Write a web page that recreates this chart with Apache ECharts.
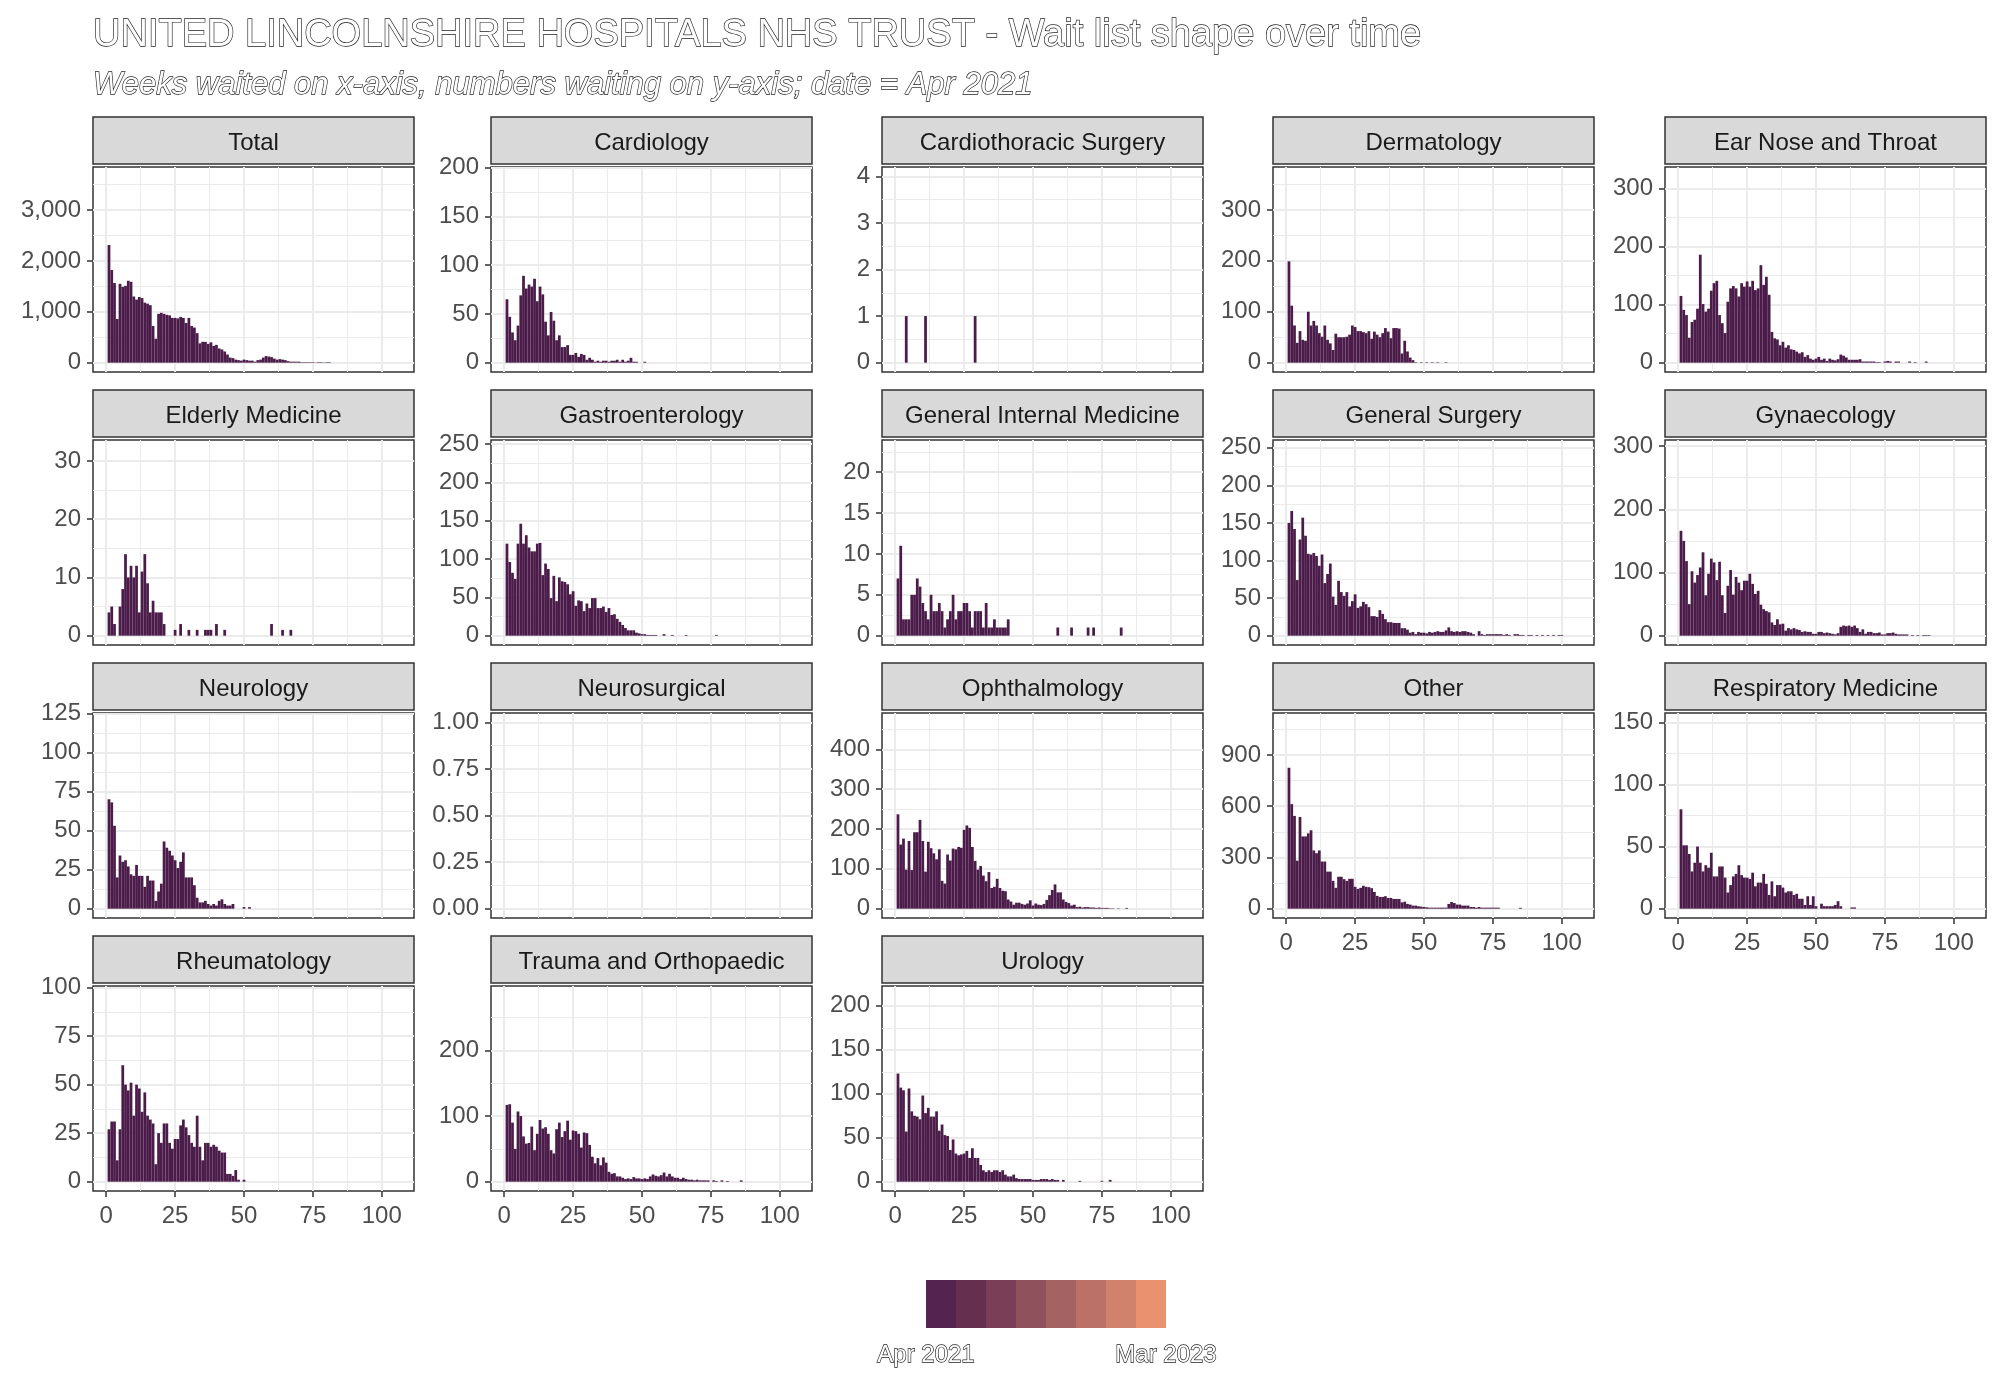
<!DOCTYPE html>
<html lang="en">
<head>
    <meta charset="UTF-8">
    <title>Wait list shape over time</title>
    <script src="https://cdn.jsdelivr.net/npm/echarts@6/dist/echarts.min.js"></script>
    <style>
        html, body { margin: 0; padding: 0; background: #fff; }
        #chart { width: 2000px; height: 1400px; }
    </style>
</head>
<body>
    <div id="chart"></div>
<script>
    // facet names, in the order they are laid out (row by row)
    var specialties = ['Total', 'Cardiology', 'Cardiothoracic Surgery', 'Dermatology', 'Ear Nose and Throat',
        'Elderly Medicine', 'Gastroenterology', 'General Internal Medicine', 'General Surgery', 'Gynaecology',
        'Neurology', 'Neurosurgical', 'Ophthalmology', 'Other', 'Respiratory Medicine',
        'Rheumatology', 'Trauma and Orthopaedic', 'Urology'];

    // numbers waiting, one value per week waited, starting at week 1 (Apr 2021)
    var total = [2312,1820,1565,858,1550,1490,1510,1610,1590,1300,1240,1290,1270,1180,1160,1130,720,470,960,980,
        960,940,930,880,880,870,900,880,780,880,720,690,580,380,410,410,370,400,330,350,280,260,220,160,100,90,60,50,
        40,60,50,40,40,20,50,60,100,130,120,110,80,60,70,60,50,30,20,20,20,20,10,10,10,10,10,5,10,10,5,10,10];
    var cardiology = [65,47,31,23,38,69,89,76,80,78,86,63,78,70,42,28,52,43,23,28,16,16,18,8,8,10,6,9,8,3,5,3,1,2,1,
        2,2,1,2,2,3,1,3,1,2,5,1,1,0,0,1];
    var cardiothoracic = [0,0,0,1,0,0,0,0,0,0,1,0,0,0,0,0,0,0,0,0,0,0,0,0,0,0,0,0,1];
    var dermatology = [199,112,73,39,62,45,43,100,73,82,73,58,51,73,45,38,25,57,50,50,50,51,55,73,70,62,62,60,58,62,
        47,61,55,50,58,68,61,48,68,68,67,18,43,22,10,5,1,0,1,0,1,0,1,0,1,0,0,1];
    var ent = [115,91,82,43,70,74,93,186,101,88,93,124,137,141,82,68,51,105,128,132,128,114,137,131,140,131,141,125,
        128,168,134,148,117,53,42,40,30,36,26,30,23,22,19,16,18,10,13,7,5,7,10,5,7,3,7,5,4,6,14,12,9,5,5,5,5,6,2,2,2,2,
        2,1,1,0,2,3,2,0,2,2,0,0,0,2,0,1,0,0,0,2];
    var elderly = [4,5,2,0,5,8,14,10,12,10,12,4,11,14,9,4,6,4,4,4,2,0,0,0,1,0,2,0,0,1,0,0,1,0,0,1,1,1,0,2,0,0,1,
        0,0,0,0,0,0,0,0,0,0,0,0,0,0,0,0,2,0,0,0,1,0,0,1];
    var gastro = [120,96,82,74,120,146,120,131,115,110,110,120,121,79,94,87,49,78,45,76,71,70,67,54,58,39,46,45,32,42,
        36,49,49,36,36,38,31,36,27,28,22,18,14,10,7,7,7,4,3,2,2,1,1,1,1,0,0,2,0,0,1,0,0,0,0,1,0,0,0,0,0,0,0,0,0,0,1];
    var generalMedicine = [7,11,2,2,2,5,5,7,6,4,3,2,5,3,3,4,3,1,2,3,5,2,3,3,4,4,3,1,3,3,3,1,4,1,1,2,1,1,1,1,2,
        0,0,0,0,0,0,0,0,0,0,0,0,0,0,0,0,0,1,0,0,0,0,1,0,0,0,0,0,1,0,1,0,0,0,0,0,0,0,0,0,1];
    var generalSurgery = [150,166,142,74,128,157,133,109,108,110,106,93,108,70,82,96,52,41,73,58,53,58,39,46,55,37,39,
        45,42,38,26,26,25,34,29,22,18,18,17,17,17,10,10,8,4,5,2,5,4,4,3,5,4,5,6,5,5,7,11,6,5,6,5,6,6,5,4,2,0,6,2,1,2,2,
        2,2,2,2,1,2,1,0,2,2,1,1,0,1,1,0,1,0,1,0,1,0,1,0,1,1];
    var gynaecology = [166,150,118,50,102,84,96,108,132,64,98,122,116,88,117,64,36,79,104,65,93,84,72,87,87,98,82,66,
        71,49,42,39,37,21,17,26,18,19,8,12,10,12,10,9,6,7,6,6,3,3,6,6,4,5,4,3,2,4,14,16,15,16,14,16,12,6,10,3,6,6,4,4,5,
        2,2,4,4,5,3,2,2,2,2,0,1,0,1,0,1,1,1];
    var neurology = [70,68,53,20,34,30,31,27,22,21,28,21,21,14,21,18,18,5,11,16,43,39,37,34,31,26,30,36,20,20,20,15,7,
        4,4,5,3,2,3,2,5,6,3,2,2,3,0,0,0,1,0,1];
    var neurosurgical = [];
    var ophthalmology = [237,161,176,98,170,97,192,192,223,170,93,168,152,139,124,149,70,63,136,121,151,149,155,153,
        198,209,203,155,120,98,107,83,69,92,52,55,75,52,45,44,23,18,10,15,15,12,10,13,21,8,13,10,9,12,22,34,47,61,41,41,
        23,17,14,8,10,4,5,3,4,4,3,3,2,3,2,2,2,1,1,0,1,0,0,2];
    var other = [825,612,543,281,537,423,423,441,459,341,325,341,276,276,217,217,163,122,187,187,173,163,175,175,128,
        116,122,134,128,126,120,98,75,69,69,73,63,63,57,57,57,37,41,28,24,18,18,14,12,10,8,6,6,6,6,6,6,6,28,39,33,24,24,
        18,18,18,10,10,6,10,6,6,6,6,6,6,6,0,0,0,0,0,0,0,5];
    var respiratory = [80,51,51,44,30,37,50,37,30,35,33,45,26,26,34,34,25,13,19,26,28,35,27,25,25,24,29,18,21,21,28,
        20,11,22,10,19,19,17,13,14,14,11,12,8,8,3,10,3,10,2,0,4,2,2,2,2,3,6,2,0,0,0,1,1];
    var rheumatology = [27,31,31,11,27,60,50,47,51,34,50,48,36,46,34,32,30,9,25,20,30,30,20,17,22,22,29,32,28,24,20,
        18,34,18,11,20,20,18,19,18,16,15,15,4,4,3,6,1,0,1];
    var trauma = [117,118,90,50,107,100,69,58,59,84,48,73,94,81,83,73,48,43,80,90,68,77,93,64,78,77,73,52,75,74,56,38,
        28,36,25,37,29,15,12,13,8,8,6,4,5,4,7,5,5,4,5,4,8,11,9,8,10,14,8,12,8,6,6,4,6,4,3,3,2,3,2,2,2,2,0,2,1,0,2,0,1,
        0,0,0,0,2];
    var urology = [123,107,104,57,106,80,75,74,71,98,78,84,74,74,80,58,65,53,52,36,48,32,30,31,32,35,27,38,27,27,19,13,
        11,13,11,13,13,11,13,8,6,6,8,4,3,3,3,3,3,2,2,2,3,3,3,2,3,2,2,0,2,0,0,0,0,0,1,0,0,0,0,0,0,0,1,0,0,2];

    var panelValues = [total, cardiology, cardiothoracic, dermatology, ent, elderly, gastro, generalMedicine,
        generalSurgery, gynaecology, neurology, neurosurgical, ophthalmology, other, respiratory, rheumatology,
        trauma, urology];

    // largest count each facet reaches over the whole period (free y scales)
    var yMax = [3662, 191, 4, 366, 321, 32, 243, 22.8, 248, 295, 119.2, 1, 468, 1091, 150, 96, 284, 212];
    var yTicks = [[0,1000,2000,3000], [0,50,100,150,200], [0,1,2,3,4], [0,100,200,300], [0,100,200,300],
        [0,10,20,30], [0,50,100,150,200,250], [0,5,10,15,20], [0,50,100,150,200,250], [0,100,200,300],
        [0,25,50,75,100,125], [0,0.25,0.5,0.75,1], [0,100,200,300,400], [0,300,600,900], [0,50,100,150],
        [0,25,50,75,100], [0,100,200], [0,50,100,150,200]];
    var xTicks = [0, 25, 50, 75, 100];
    var xMinor = [12.5, 37.5, 62.5, 87.5];

    var legendColors = ['#55234f', '#652f50', '#7a3f56', '#8f515c', '#a56262', '#bb7167', '#d1826c', '#ea9170'];
    var legendLabels = ['Apr 2021', 'Mar 2023'];

    // layout of the facet grid
    var colLeft = [93, 491, 882, 1273, 1665];
    var rowTop = [167, 440, 713, 986];
    var panelW = 321, panelH = 205;
    var xMin = -4.8, xMax = 111.7;
    var barColor = '#4b1c4a';
    var font = 'Liberation Sans';
    var outline = { color: '#fff', textBorderColor: '#222', textBorderWidth: 1.3 };

    var grids = [], xAxes = [], yAxes = [], series = [], graphics = [];

    panelValues.forEach(function (values, i) {
        var row = Math.floor(i / 5), col = i % 5;
        var left = colLeft[col], top = rowTop[row];
        var bottomRow = i + 5 >= panelValues.length;
        var ticks = yTicks[i];
        var step = ticks[1] - ticks[0];
        var ymin = -0.05 * yMax[i], ymax = 1.05 * yMax[i];
        var yMinor = ticks.map(function (t) { return t + step / 2; })
            .filter(function (t) { return t < ymax; });
        var decimals = step < 1;

        grids.push({
            left: left, top: top, width: panelW, height: panelH,
            show: true, backgroundColor: '#fff', borderColor: '#333', borderWidth: 1.5
        });

        // major x (ticks + labels on the bottom facets only)
        xAxes.push({
            gridIndex: i, type: 'value', min: xMin, max: xMax,
            axisLine: { show: false, onZero: false },
            axisTick: { show: bottomRow, customValues: xTicks, length: 6, lineStyle: { color: '#333', width: 1.5 } },
            axisLabel: { show: bottomRow, customValues: xTicks, margin: 13, fontSize: 24, fontFamily: font, color: '#4d4d4d' },
            splitLine: { show: true, lineStyle: { color: '#ebebeb', width: 2 } }
        });
        // minor x grid lines
        xAxes.push({
            gridIndex: i, type: 'value', min: xMin, max: xMax, position: 'top',
            axisLine: { show: false, onZero: false },
            axisTick: { show: false, customValues: xMinor },
            axisLabel: { show: false },
            splitLine: { show: true, lineStyle: { color: '#ebebeb', width: 1 } }
        });

        yAxes.push({
            gridIndex: i, type: 'value', min: ymin, max: ymax, position: 'left',
            axisLine: { show: false, onZero: false },
            axisTick: { show: true, customValues: ticks, length: 6, lineStyle: { color: '#333', width: 1.5 } },
            axisLabel: {
                show: true, customValues: ticks, margin: 12, fontSize: 24, fontFamily: font, color: '#4d4d4d',
                formatter: function (v) { return decimals ? v.toFixed(2) : v.toLocaleString('en-US'); }
            },
            splitLine: { show: true, lineStyle: { color: '#ebebeb', width: 2 } }
        });
        yAxes.push({
            gridIndex: i, type: 'value', min: ymin, max: ymax, position: 'right',
            axisLine: { show: false, onZero: false },
            axisTick: { show: false, customValues: yMinor },
            axisLabel: { show: false },
            splitLine: { show: true, lineStyle: { color: '#ebebeb', width: 1 } }
        });

        series.push({
            name: specialties[i], type: 'bar',
            xAxisIndex: 2 * i, yAxisIndex: 2 * i,
            barWidth: panelW / (xMax - xMin),
            itemStyle: { color: barColor },
            silent: true,
            data: values.map(function (v, w) { return [w + 1, v]; })
        });

        // facet strip
        graphics.push({
            type: 'rect', shape: { x: left, y: top - 50, width: panelW, height: 47 },
            style: { fill: '#d9d9d9', stroke: '#333', lineWidth: 1.5 }
        });
        graphics.push({
            type: 'text', x: left + panelW / 2, y: top - 24,
            style: { text: specialties[i], fill: '#1a1a1a', fontSize: 24, fontFamily: font, align: 'center', verticalAlign: 'middle' }
        });
    });

    // colour key for the month of the snapshot
    var keyLeft = 926, keyTop = 1280, keyW = 30, keyH = 48;
    legendColors.forEach(function (c, k) {
        graphics.push({
            type: 'rect', shape: { x: keyLeft + k * keyW, y: keyTop, width: keyW, height: keyH },
            style: { fill: c }
        });
    });
    legendLabels.forEach(function (lab, k) {
        graphics.push({
            type: 'text', x: keyLeft + k * keyW * legendColors.length, y: 1355,
            style: {
                text: lab, fontSize: 24, fontFamily: font, align: 'center', verticalAlign: 'middle',
                fill: outline.color, stroke: outline.textBorderColor, lineWidth: outline.textBorderWidth
            }
        });
    });

    var myChart = echarts.init(document.getElementById('chart'));
    myChart.setOption({
        animation: false,
        backgroundColor: '#fff',
        title: [{
            text: 'UNITED LINCOLNSHIRE HOSPITALS NHS TRUST - Wait list shape over time',
            left: 93, top: 17, padding: 0,
            textStyle: Object.assign({ fontSize: 38, fontWeight: 'normal', fontFamily: font }, outline)
        }, {
            text: 'Weeks waited on x-axis, numbers waiting on y-axis; date = Apr 2021',
            left: 93, top: 70, padding: 0,
            textStyle: Object.assign({ fontSize: 31, fontStyle: 'italic', fontWeight: 'normal', fontFamily: font }, outline)
        }],
        grid: grids,
        xAxis: xAxes,
        yAxis: yAxes,
        series: series,
        graphic: graphics
    });
</script>
</body>
</html>
